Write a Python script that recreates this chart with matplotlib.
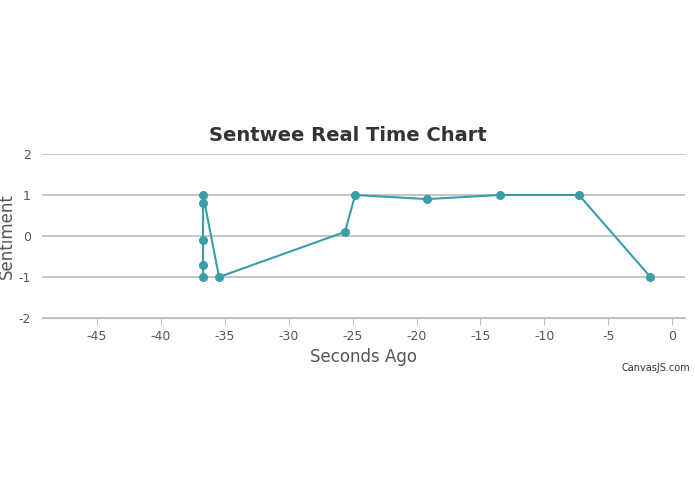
import matplotlib
matplotlib.use("Agg")
import matplotlib.pyplot as plt
plt.rcParams['axes.unicode_minus'] = False

x = [-36.7, -36.7, -36.7, -36.7, -36.7, -35.45, -25.6, -24.8, -19.2, -13.5, -7.3, -1.7]
y = [-1, -0.7, -0.1, 0.8, 1, -1, 0.1, 1, 0.9, 1, 1, -1]
xticks = [-45, -40, -35, -30, -25, -20, -15, -10, -5, 0]
yticks = [-2, -1, 0, 1, 2]

fig = plt.figure(figsize=(6.95, 4.94), dpi=100)
ax = fig.add_axes([42/695, 1-318/494, 643/695, 164/494])
c = '#3a9da8'
ax.plot(x, y, color=c, lw=1.5, marker='o', ms=5.5)
ax.set_xlim(-49.3, 1.0)
ax.set_ylim(-2, 2)
ax.set_xticks(xticks)
ax.set_yticks(yticks)
ax.grid(axis='y', color='#bbbbbb', lw=1.2)
ax.set_axisbelow(True)
for s in ['top', 'right', 'left']:
    ax.spines[s].set_visible(False)
ax.spines['bottom'].set_color('#bbbbbb')
ax.tick_params(axis='x', colors='#bbbbbb', labelcolor='#555555', labelsize=9, length=5)
ax.tick_params(axis='y', length=0, labelcolor='#555555', labelsize=9, pad=8)
ax.set_xlabel('Seconds Ago', fontsize=12, color='#555555', labelpad=4)
ax.set_ylabel('Sentiment', fontsize=12, color='#555555', labelpad=2)
fig.text(0.5, 1-135/494, 'Sentwee Real Time Chart', ha='center', va='center', fontsize=14, fontweight='bold', color='#333333')
fig.text(690/695, 1-368/494, 'CanvasJS.com', ha='right', va='center', fontsize=7, color='#333333')
fig.savefig('out.png', dpi=100)
